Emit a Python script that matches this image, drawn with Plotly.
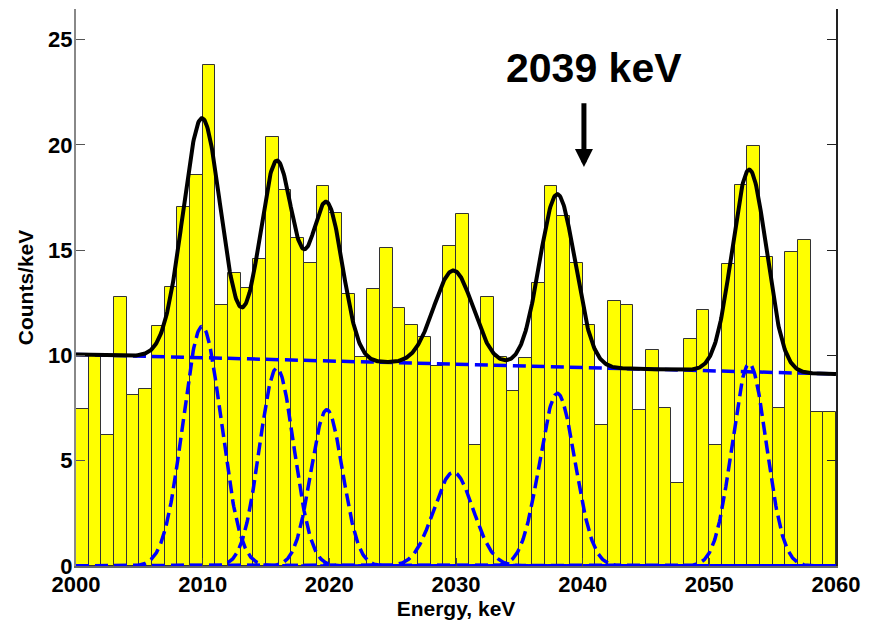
import numpy as np
import plotly.graph_objects as go

# ---- data ----
bin_left_edges = list(range(2000, 2060))
counts = [7.45, 10.0, 6.2, 12.8, 8.1, 8.4, 11.38, 13.25, 17.05, 18.58,
          23.8, 12.4, 13.93, 13.2, 14.58, 20.4, 17.84, 15.57, 14.4, 18.03,
          16.75, 12.93, 9.92, 13.15, 15.13, 12.28, 11.43, 10.86, 9.48, 15.22,
          16.73, 5.73, 12.76, 9.92, 8.29, 9.86, 13.45, 18.06, 16.65, 14.4,
          11.43, 6.71, 12.6, 12.41, 7.4, 10.25, 7.5, 3.92, 10.78, 12.15,
          5.73, 14.37, 18.1, 19.93, 14.7, 7.5, 14.9, 15.51, 7.31, 7.31]

# fitted model parameters
bg_start = 10.05          # background at 2000 keV
bg_slope = -0.0155        # per keV
peak_centers = [2009.95, 2015.85, 2019.8, 2029.8, 2038.0, 2053.15]
peak_amps = [11.38, 9.4, 7.42, 4.45, 8.2, 9.6]
peak_sigmas = [1.5, 1.35, 1.25, 1.55, 1.4, 1.35]

x_ticks = [2000, 2010, 2020, 2030, 2040, 2050, 2060]
y_ticks = [0, 5, 10, 15, 20, 25]

label_text = "2039 keV"
arrow_energy = 2040.1
arrow_tip = 18.96
arrow_tail = 22.05
label_pos = (2040.9, 23.65)

# ---- figure ----
centers = [e + 0.5 for e in bin_left_edges]
E = np.linspace(2000, 2060, 1201)
bg = bg_start + bg_slope * (E - 2000)
gauss = [a * np.exp(-(E - c) ** 2 / (2 * s ** 2))
         for c, a, s in zip(peak_centers, peak_amps, peak_sigmas)]
total = bg + np.sum(gauss, axis=0)

FONT = "Liberation Sans, Arial, sans-serif"
BLUE = "#0000FF"

fig = go.Figure()
fig.add_trace(go.Bar(x=centers, y=counts, width=1.0,
                     marker=dict(color="#FFFF00",
                                 line=dict(color="#333333", width=1)),
                     hoverinfo="skip"))
fig.add_trace(go.Scatter(x=E, y=bg, mode="lines",
                         line=dict(color=BLUE, width=3.5, dash="13px,6px")))
for g in gauss:
    fig.add_trace(go.Scatter(x=E, y=g, mode="lines",
                             line=dict(color=BLUE, width=3.5, dash="13px,6px")))
fig.add_trace(go.Scatter(x=E, y=total, mode="lines",
                         line=dict(color="black", width=4)))
# invisible trace for right axis
fig.add_trace(go.Scatter(x=[2000], y=[0], yaxis="y2", mode="markers",
                         marker=dict(opacity=0), hoverinfo="skip"))

fig.add_annotation(x=label_pos[0], y=label_pos[1], xref="x", yref="y",
                   text=label_text, showarrow=False,
                   font=dict(family=FONT, size=41, color="black", weight="bold"))
fig.add_annotation(x=arrow_energy, y=arrow_tip, xref="x", yref="y",
                   ax=arrow_energy, ay=arrow_tail, axref="x", ayref="y",
                   text="", showarrow=True, arrowhead=2, arrowwidth=5,
                   arrowsize=0.72, arrowcolor="black")

tickfont = dict(family=FONT, size=22, color="black", weight="bold")
titlefont = dict(family=FONT, size=21, color="black", weight="bold")

# page body adds an 8px offset; margins compensate
fig.update_layout(
    width=872, height=625,
    margin=dict(l=68, r=44, t=1, b=67, autoexpand=False),
    paper_bgcolor="white", plot_bgcolor="white",
    showlegend=False, bargap=0,
    xaxis=dict(range=[2000, 2060], tickvals=x_ticks, ticks="inside",
               ticklen=8, tickcolor="#444", showline=True, linecolor="#666",
               linewidth=1.5, showgrid=False, zeroline=False,
               automargin=False,
               tickfont=tickfont, ticklabelstandoff=-2,
               title=dict(text="Energy, keV", font=titlefont, standoff=0)),
    yaxis=dict(range=[0, 26.46], tickvals=y_ticks, ticks="inside",
               ticklen=9, tickcolor="#555", showline=True, linecolor="#888",
               linewidth=2, showgrid=False, zeroline=False,
               automargin=False,
               tickfont=tickfont, ticklabelstandoff=-3,
               title=dict(text="Counts/keV", font=titlefont, standoff=9)),
    yaxis2=dict(overlaying="y", side="right", matches="y", range=[0, 26.46],
                tickvals=y_ticks, ticks="inside", ticklen=9,
                tickcolor="#222", showline=True, linecolor="#222",
                linewidth=2, showgrid=False, zeroline=False,
                automargin=False, showticklabels=False),
)

fig.write_html("out.html")
